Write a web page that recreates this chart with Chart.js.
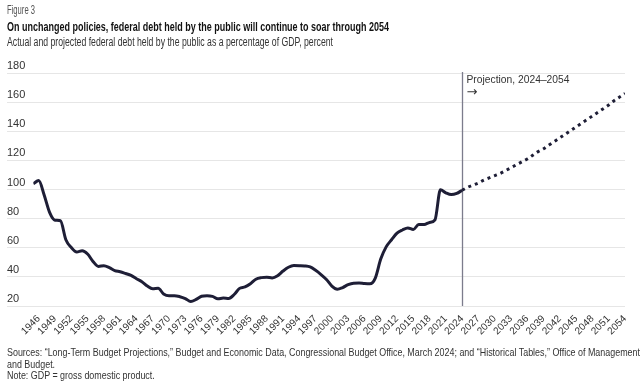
<!DOCTYPE html>
<html>
<head>
<meta charset="utf-8">
<script src="https://cdn.jsdelivr.net/npm/chart.js@4.4.1/dist/chart.umd.min.js"></script>
<style>
  html, body { margin: 0; padding: 0; background: #fff; }
  #wrap { position: relative; width: 644px; height: 386px; overflow: hidden; }
  #chart { position: absolute; left: 0; top: 0; }
  .txt { position: absolute; left: 7px; white-space: nowrap; transform-origin: 0 0; font-family: "Liberation Sans", Arial, sans-serif; }
  .txt span { display: inline-block; }
  #fig { top: 3px; font-size: 12px; color: #555; }
  #title { top: 19px; font-size: 13px; font-weight: bold; color: #111; }
  #sub { top: 35px; font-size: 12.5px; color: #333; }
  #src { top: 347px; font-size: 10.5px; line-height: 11.5px; color: #333; }
</style>
</head>
<body>
<div id="wrap">
  <canvas id="chart" width="644" height="386"></canvas>
  <div class="txt" id="fig" data-w="28"><span>Figure 3</span></div>
  <div class="txt" id="title" data-w="382"><span>On unchanged policies, federal debt held by the public will continue to soar through 2054</span></div>
  <div class="txt" id="sub" data-w="326"><span>Actual and projected federal debt held by the public as a percentage of GDP, percent</span></div>
  <div class="txt" id="src" data-w="633"><span>Sources: “Long-Term Budget Projections,” Budget and Economic Data, Congressional Budget Office, March 2024; and “Historical Tables,” Office of Management</span><br>and Budget.<br>Note: GDP = gross domestic product.</div>
</div>
<script>
// actual debt, 1945-2024
const actualStart = 1945;
const actualDebt = [
  103.9, 106.1, 96.2, 84.3, 78.9, 78.5, 65.5, 60.1, 57.1, 57.9,
  55.7, 50.6, 47.2, 47.7, 46.4, 44.3, 43.5, 42.3, 41.0, 38.7,
  36.7, 33.7, 31.8, 32.2, 28.3, 27.0, 27.1, 26.4, 25.1, 23.1,
  24.5, 26.7, 27.1, 26.6, 24.9, 25.5, 25.2, 27.9, 32.1, 33.1,
  35.3, 38.4, 39.5, 39.8, 39.3, 40.8, 44.0, 46.6, 47.8, 47.7,
  47.5, 46.8, 44.5, 41.6, 38.2, 33.7, 31.5, 32.7, 34.7, 35.7,
  35.8, 35.4, 35.2, 39.2, 52.2, 60.6, 65.5, 70.0, 72.2, 73.6,
  72.5, 76.0, 76.0, 77.4, 79.2, 99.8, 97.7, 96.5, 97.3, 99.5
];
// projected debt, 2024-2054
const projStart = 2024;
const projDebt = [
  99.5, 101.5, 103, 104.5, 106.5, 108, 109.5, 111, 113, 115,
  117, 119, 121, 123.5, 126, 128, 130.5, 133, 135.5, 138,
  140.5, 143, 145.5, 148, 150.5, 153, 155.5, 158, 161, 163.5, 166
];
const tickYears = [1946, 1949, 1952, 1955, 1958, 1961, 1964, 1967, 1970, 1973,
  1976, 1979, 1982, 1985, 1988, 1991, 1994, 1997, 2000, 2003, 2006, 2009, 2012,
  2015, 2018, 2021, 2024, 2027, 2030, 2033, 2036, 2039, 2042, 2045, 2048, 2051, 2054];
const yTicks = [20, 40, 60, 80, 100, 120, 140, 160, 180];

// squeeze the header/footer text to the reference widths (condensed face not installed)
document.querySelectorAll('.txt[data-w]').forEach(el => {
  const w = el.querySelector('span').getBoundingClientRect().width;
  el.style.transform = 'scaleX(' + (Number(el.dataset.w) / w) + ')';
});

const toPoints = (start, arr) => arr.map((v, i) => ({ x: start + i, y: v }));

const lineColor = '#1e1e36';
const labelFont = '"Liberation Sans", Arial, sans-serif';

const projectionMarker = {
  id: 'projectionMarker',
  beforeDatasetsDraw(chart) {
    const { ctx, chartArea, scales } = chart;
    const x = Math.round(scales.x.getPixelForValue(projStart)) + 0.5;
    ctx.save();
    ctx.strokeStyle = '#7c7c8c';
    ctx.lineWidth = 1.3;
    ctx.beginPath();
    ctx.moveTo(x, chartArea.top - 1);
    ctx.lineTo(x, chartArea.bottom);
    ctx.stroke();
    ctx.fillStyle = '#333';
    ctx.textBaseline = 'middle';
    ctx.font = '11.5px ' + labelFont;
    const label = 'Projection, 2024–2054';
    const k = 103 / ctx.measureText(label).width;
    ctx.save();
    ctx.translate(x + 4, 80);
    ctx.scale(k, 1);
    ctx.fillText(label, 0, 0);
    ctx.restore();
    ctx.font = '13px "DejaVu Sans", sans-serif';
    ctx.fillText('→', x + 4, 93);
    ctx.restore();
  }
};

new Chart(document.getElementById('chart'), {
  type: 'line',
  data: {
    datasets: [{
      data: toPoints(actualStart, actualDebt),
      borderColor: lineColor,
      borderWidth: 3,
      pointRadius: 0,
      cubicInterpolationMode: 'monotone',
      borderJoinStyle: 'round'
    }, {
      data: toPoints(projStart, projDebt),
      borderColor: lineColor,
      borderWidth: 3,
      borderDash: [3, 4],
      pointRadius: 0,
      cubicInterpolationMode: 'monotone'
    }]
  },
  options: {
    responsive: false,
    animation: false,
    layout: { padding: { left: 7, top: 73, right: 19, bottom: 0 } },
    plugins: { legend: { display: false }, tooltip: { enabled: false } },
    scales: {
      x: {
        type: 'linear',
        min: 1945,
        max: 2054,
        afterBuildTicks: axis => { axis.ticks = tickYears.map(v => ({ value: v })); },
        afterFit: axis => { axis.height = 80; },
        grid: { display: false, drawTicks: false },
        border: { display: false },
        ticks: {
          autoSkip: false,
          minRotation: 45,
          maxRotation: 45,
          padding: 7,
          color: '#333',
          font: { family: labelFont, size: 10 },
          callback: v => String(v)
        }
      },
      y: {
        min: 20,
        max: 180,
        afterBuildTicks: axis => { axis.ticks = yTicks.map(v => ({ value: v })); },
        afterFit: axis => { axis.width = 26.3; },
        grid: { color: '#e6e6e6', lineWidth: 1, tickLength: 26.3, drawTicks: true },
        border: { display: false },
        ticks: {
          crossAlign: 'far',
          padding: 0,
          labelOffset: -7,
          color: '#333',
          font: { family: labelFont, size: 11 }
        }
      }
    }
  },
  plugins: [projectionMarker]
});
</script>
</body>
</html>
